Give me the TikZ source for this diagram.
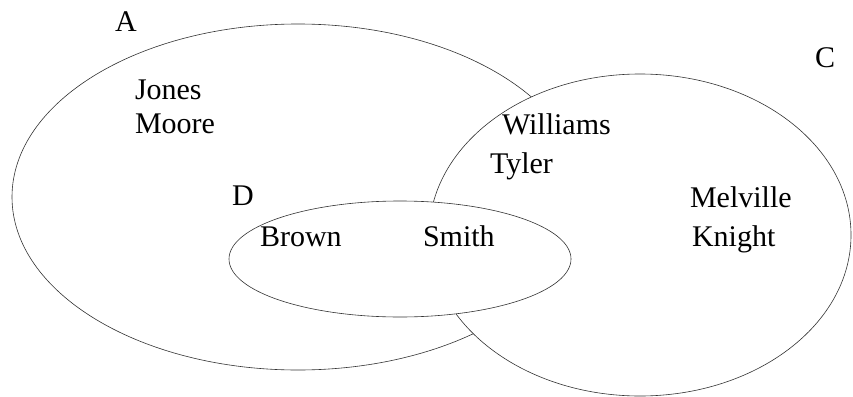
\documentclass[tikz,border=0pt]{standalone}
\usepackage{fontspec}
\setmainfont{Liberation Serif}
\tikzset{
  setring/.style={draw=black!80, line width=0.6pt, fill=white},
  lbl/.style={anchor=base west, inner sep=0pt, outer sep=0pt, font=\fontsize{30}{36}\selectfont}
}
\begin{document}
\begin{tikzpicture}[x=1pt,y=-1pt]
\useasboundingbox (0,0) rectangle (853,396);
% set A
\draw[setring] (298,197) ellipse [x radius=286pt, y radius=173pt];
% set C
\draw[setring] (640,235) ellipse [x radius=211pt, y radius=161pt];
% set D
\draw[setring] (400,259) ellipse [x radius=171pt, y radius=58pt];
% labels
\node[lbl] (la) at (115,32) {A};
\node[lbl] (lc) at (815,67) {C};
\node[lbl] (ld) at (232,205) {D};
\node[lbl] (jones) at (135,99) {Jones};
\node[lbl] (moore) at (135,133) {Moore};
\node[lbl] (williams) at (502,134) {Williams};
\node[lbl] (tyler) at (490,173) {Tyler};
\node[lbl] (melville) at (690,207) {Melville};
\node[lbl] (knight) at (692,246) {Knight};
\node[lbl] (brown) at (260,246) {Brown};
\node[lbl] (smith) at (423,246) {Smith};
\end{tikzpicture}
\end{document}
